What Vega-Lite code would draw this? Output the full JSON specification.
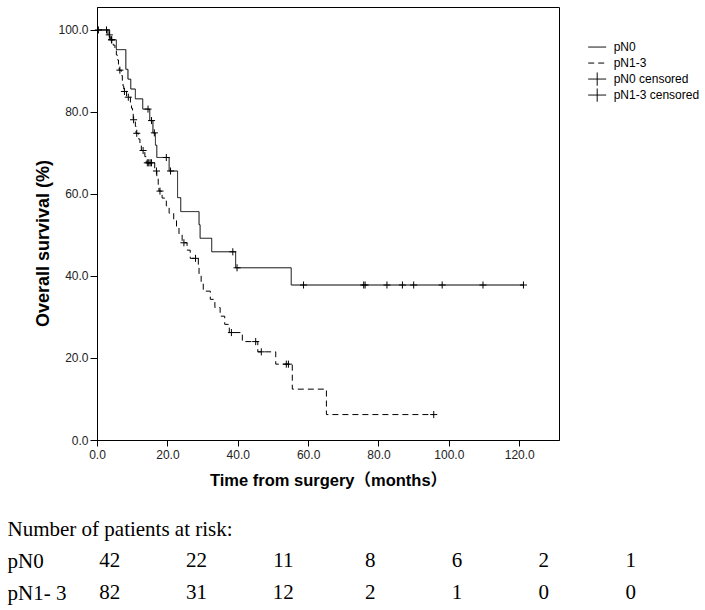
{
  "$schema": "https://vega.github.io/schema/vega-lite/v6.json",
  "description": "Overall survival by nodal status, with number of patients at risk",
  "padding": {"left": 7, "top": 6, "right": 5, "bottom": 5},
  "bounds": "flush",
  "spacing": 73,
  "config": {
    "view": {"stroke": null},
    "axis": {"grid": false}
  },
  "datasets": {
    "curves": [
      {"series": "pN0", "time": 0, "surv": 100},
      {"series": "pN0", "time": 3.6, "surv": 97.6},
      {"series": "pN0", "time": 5.5, "surv": 95.2},
      {"series": "pN0", "time": 8.2, "surv": 90.4},
      {"series": "pN0", "time": 8.8, "surv": 88.0},
      {"series": "pN0", "time": 9.6, "surv": 85.6},
      {"series": "pN0", "time": 10.9, "surv": 83.2},
      {"series": "pN0", "time": 13.0, "surv": 80.7},
      {"series": "pN0", "time": 15.0, "surv": 77.9},
      {"series": "pN0", "time": 15.9, "surv": 74.9},
      {"series": "pN0", "time": 16.6, "surv": 71.9},
      {"series": "pN0", "time": 17.0, "surv": 68.9},
      {"series": "pN0", "time": 20.5, "surv": 65.6},
      {"series": "pN0", "time": 22.9, "surv": 59.1},
      {"series": "pN0", "time": 23.8, "surv": 55.7},
      {"series": "pN0", "time": 29.0, "surv": 52.5},
      {"series": "pN0", "time": 29.3, "surv": 49.2},
      {"series": "pN0", "time": 32.6, "surv": 45.9},
      {"series": "pN0", "time": 39.4, "surv": 42.0},
      {"series": "pN0", "time": 55.2, "surv": 37.8},
      {"series": "pN0", "time": 121.2, "surv": 37.8},
      {"series": "pN1-3", "time": 0, "surv": 100},
      {"series": "pN1-3", "time": 3.1, "surv": 98.8},
      {"series": "pN1-3", "time": 3.9, "surv": 97.6},
      {"series": "pN1-3", "time": 4.6, "surv": 96.3},
      {"series": "pN1-3", "time": 5.1, "surv": 95.1},
      {"series": "pN1-3", "time": 5.5, "surv": 93.9},
      {"series": "pN1-3", "time": 5.8, "surv": 92.7},
      {"series": "pN1-3", "time": 6.1, "surv": 91.4},
      {"series": "pN1-3", "time": 6.3, "surv": 90.2},
      {"series": "pN1-3", "time": 6.9, "surv": 88.9},
      {"series": "pN1-3", "time": 7.2, "surv": 87.6},
      {"series": "pN1-3", "time": 7.4, "surv": 86.3},
      {"series": "pN1-3", "time": 7.6, "surv": 85.0},
      {"series": "pN1-3", "time": 8.4, "surv": 83.6},
      {"series": "pN1-3", "time": 9.5, "surv": 82.2},
      {"series": "pN1-3", "time": 9.8, "surv": 80.9},
      {"series": "pN1-3", "time": 10.1, "surv": 79.5},
      {"series": "pN1-3", "time": 10.3, "surv": 78.1},
      {"series": "pN1-3", "time": 10.9, "surv": 76.5},
      {"series": "pN1-3", "time": 11.1, "surv": 74.8},
      {"series": "pN1-3", "time": 11.8, "surv": 73.4},
      {"series": "pN1-3", "time": 12.2, "surv": 72.0},
      {"series": "pN1-3", "time": 12.6, "surv": 70.6},
      {"series": "pN1-3", "time": 13.6, "surv": 69.1},
      {"series": "pN1-3", "time": 14.0, "surv": 67.6},
      {"series": "pN1-3", "time": 16.4, "surv": 65.6},
      {"series": "pN1-3", "time": 17.0, "surv": 63.8},
      {"series": "pN1-3", "time": 17.4, "surv": 62.2},
      {"series": "pN1-3", "time": 17.6, "surv": 60.7},
      {"series": "pN1-3", "time": 18.5, "surv": 59.0},
      {"series": "pN1-3", "time": 19.7, "surv": 57.1},
      {"series": "pN1-3", "time": 20.5, "surv": 55.3},
      {"series": "pN1-3", "time": 21.8, "surv": 53.6},
      {"series": "pN1-3", "time": 22.6, "surv": 51.8},
      {"series": "pN1-3", "time": 23.3, "surv": 50.1},
      {"series": "pN1-3", "time": 24.2, "surv": 48.1},
      {"series": "pN1-3", "time": 25.6, "surv": 46.3},
      {"series": "pN1-3", "time": 26.5, "surv": 44.3},
      {"series": "pN1-3", "time": 28.8, "surv": 42.3},
      {"series": "pN1-3", "time": 29.0, "surv": 40.4},
      {"series": "pN1-3", "time": 29.6, "surv": 38.4},
      {"series": "pN1-3", "time": 30.2, "surv": 36.3},
      {"series": "pN1-3", "time": 32.2, "surv": 34.3},
      {"series": "pN1-3", "time": 33.5, "surv": 32.3},
      {"series": "pN1-3", "time": 35.0, "surv": 30.2},
      {"series": "pN1-3", "time": 36.3, "surv": 28.2},
      {"series": "pN1-3", "time": 37.6, "surv": 26.2},
      {"series": "pN1-3", "time": 41.3, "surv": 24.0},
      {"series": "pN1-3", "time": 45.7, "surv": 21.5},
      {"series": "pN1-3", "time": 50.8, "surv": 18.5},
      {"series": "pN1-3", "time": 55.5, "surv": 12.4},
      {"series": "pN1-3", "time": 65.2, "surv": 6.2},
      {"series": "pN1-3", "time": 95.7, "surv": 6.2}
    ],
    "censored": [
      {"series": "pN0 censored", "time": 2.7, "surv": 100},
      {"series": "pN0 censored", "time": 4.1, "surv": 97.6},
      {"series": "pN0 censored", "time": 14.5, "surv": 80.7},
      {"series": "pN0 censored", "time": 15.5, "surv": 77.9},
      {"series": "pN0 censored", "time": 16.3, "surv": 74.9},
      {"series": "pN0 censored", "time": 19.7, "surv": 68.9},
      {"series": "pN0 censored", "time": 20.9, "surv": 65.6},
      {"series": "pN0 censored", "time": 38.6, "surv": 45.9},
      {"series": "pN0 censored", "time": 39.8, "surv": 42.0},
      {"series": "pN0 censored", "time": 58.7, "surv": 37.8},
      {"series": "pN0 censored", "time": 75.8, "surv": 37.8},
      {"series": "pN0 censored", "time": 76.2, "surv": 37.8},
      {"series": "pN0 censored", "time": 82.4, "surv": 37.8},
      {"series": "pN0 censored", "time": 86.8, "surv": 37.8},
      {"series": "pN0 censored", "time": 90.0, "surv": 37.8},
      {"series": "pN0 censored", "time": 98.1, "surv": 37.8},
      {"series": "pN0 censored", "time": 109.7, "surv": 37.8},
      {"series": "pN0 censored", "time": 121.2, "surv": 37.8},
      {"series": "pN1-3 censored", "time": 0.4, "surv": 100},
      {"series": "pN1-3 censored", "time": 3.5, "surv": 98.8},
      {"series": "pN1-3 censored", "time": 4.2, "surv": 97.6},
      {"series": "pN1-3 censored", "time": 6.5, "surv": 90.2},
      {"series": "pN1-3 censored", "time": 7.8, "surv": 85.0},
      {"series": "pN1-3 censored", "time": 8.9, "surv": 83.6},
      {"series": "pN1-3 censored", "time": 10.4, "surv": 78.1},
      {"series": "pN1-3 censored", "time": 11.3, "surv": 74.8},
      {"series": "pN1-3 censored", "time": 13.1, "surv": 70.6},
      {"series": "pN1-3 censored", "time": 14.3, "surv": 67.6},
      {"series": "pN1-3 censored", "time": 14.7, "surv": 67.6},
      {"series": "pN1-3 censored", "time": 15.1, "surv": 67.6},
      {"series": "pN1-3 censored", "time": 15.5, "surv": 67.6},
      {"series": "pN1-3 censored", "time": 16.9, "surv": 65.6},
      {"series": "pN1-3 censored", "time": 17.9, "surv": 60.7},
      {"series": "pN1-3 censored", "time": 24.7, "surv": 48.1},
      {"series": "pN1-3 censored", "time": 28.0, "surv": 44.3},
      {"series": "pN1-3 censored", "time": 38.2, "surv": 26.2},
      {"series": "pN1-3 censored", "time": 45.1, "surv": 24.0},
      {"series": "pN1-3 censored", "time": 46.7, "surv": 21.5},
      {"series": "pN1-3 censored", "time": 53.8, "surv": 18.5},
      {"series": "pN1-3 censored", "time": 54.4, "surv": 18.5},
      {"series": "pN1-3 censored", "time": 95.7, "surv": 6.2}
    ],
    "risk": [
      {"group": "pN0", "time": 0, "n": 42},
      {"group": "pN0", "time": 20, "n": 22},
      {"group": "pN0", "time": 40, "n": 11},
      {"group": "pN0", "time": 60, "n": 8},
      {"group": "pN0", "time": 80, "n": 6},
      {"group": "pN0", "time": 100, "n": 2},
      {"group": "pN0", "time": 120, "n": 1},
      {"group": "pN1- 3", "time": 0, "n": 82},
      {"group": "pN1- 3", "time": 20, "n": 31},
      {"group": "pN1- 3", "time": 40, "n": 12},
      {"group": "pN1- 3", "time": 60, "n": 2},
      {"group": "pN1- 3", "time": 80, "n": 1},
      {"group": "pN1- 3", "time": 100, "n": 0},
      {"group": "pN1- 3", "time": 120, "n": 0}
    ]
  },
  "vconcat": [
    {
      "width": 462,
      "height": 433,
      "view": {"stroke": "#000", "strokeWidth": 1},
      "layer": [
        {
          "data": {"name": "curves"},
          "mark": {"type": "line", "interpolate": "step-after", "color": "#000", "strokeWidth": 1},
          "encoding": {
            "x": {
              "field": "time",
              "type": "quantitative",
              "scale": {"domain": [0, 131.3], "nice": false, "zero": false},
              "axis": {
                "title": "Time from surgery（months）",
                "values": [0, 20, 40, 60, 80, 100, 120],
                "format": ".1f",
                "domainColor": "#000",
                "tickColor": "#000",
                "tickSize": 6,
                "labelPadding": 3.5,
                "labelFont": "Liberation Sans",
                "labelFontSize": 12,
                "labelColor": "#222",
                "labelFlush": false,
                "labelOverlap": false,
                "titleFont": "Liberation Sans, Noto Sans CJK SC",
                "titleFontSize": 16.5,
                "titleFontWeight": "bold",
                "titleColor": "#000",
                "titlePadding": 12
              }
            },
            "y": {
              "field": "surv",
              "type": "quantitative",
              "scale": {"domain": [0, 105.6], "nice": false},
              "axis": {
                "title": "Overall survival (%)",
                "values": [0, 20, 40, 60, 80, 100],
                "format": ".1f",
                "domainColor": "#000",
                "tickColor": "#000",
                "tickSize": 7,
                "labelPadding": 2,
                "labelFont": "Liberation Sans",
                "labelFontSize": 12,
                "labelColor": "#222",
                "labelFlush": false,
                "labelOverlap": false,
                "titleFont": "Liberation Sans",
                "titleFontSize": 18,
                "titleFontWeight": "bold",
                "titleColor": "#000",
                "titlePadding": 5,
                "titleY": 236
              }
            },
            "strokeDash": {
              "field": "series",
              "type": "nominal",
              "scale": {
                "domain": ["pN0", "pN1-3", "pN0 censored", "pN1-3 censored"],
                "range": [[1, 0], [6, 4], [1, 0], [1, 0]]
              },
              "legend": {
                "title": null,
                "orient": "none",
                "legendX": 490.7,
                "legendY": 33.4,
                "symbolSize": 324,
                "clipHeight": 13.3,
                "rowPadding": 2,
                "labelOffset": 7,
                "labelFont": "Liberation Sans",
                "labelFontSize": 12,
                "labelColor": "#000",
                "symbolStrokeColor": "#000",
                "symbolStrokeWidth": 1,
                "symbolOpacity": 1
              }
            }
          }
        },
        {
          "data": {"name": "censored"},
          "mark": {"type": "point", "filled": false, "color": "#000", "strokeWidth": 1, "size": 50, "opacity": 1},
          "encoding": {
            "x": {"field": "time", "type": "quantitative"},
            "y": {"field": "surv", "type": "quantitative"},
            "shape": {
              "field": "series",
              "type": "nominal",
              "scale": {
                "domain": ["pN0", "pN1-3", "pN0 censored", "pN1-3 censored"],
                "range": ["stroke", "stroke", "M-1,0H1M0,-1V1", "M-1,0H1M0,-1V1"]
              },
              "legend": {
                "title": null,
                "orient": "none",
                "legendX": 490.7,
                "legendY": 33.4,
                "symbolSize": 324,
                "clipHeight": 13.3,
                "rowPadding": 2,
                "labelOffset": 7,
                "labelFont": "Liberation Sans",
                "labelFontSize": 12,
                "labelColor": "#000",
                "symbolStrokeColor": "#000",
                "symbolStrokeWidth": 1,
                "symbolOpacity": 1
              }
            }
          }
        }
      ]
    },
    {
      "width": 462,
      "height": 96,
      "data": {"name": "risk"},
      "mark": {"type": "text", "font": "Liberation Serif", "fontSize": 21, "color": "#000", "align": "center", "baseline": "middle"},
      "encoding": {
        "x": {
          "field": "time",
          "type": "ordinal",
          "scale": {"type": "point", "range": [12.7, 533.7], "padding": 0},
          "axis": null
        },
        "y": {
          "field": "group",
          "type": "nominal",
          "scale": {"domain": ["Number of patients at risk:", "pN0", "pN1- 3"]},
          "axis": {
            "title": null,
            "domain": false,
            "ticks": false,
            "tickSize": 0,
            "labelAlign": "left",
            "labelPadding": 90,
            "labelFont": "Liberation Serif",
            "labelFontSize": 21,
            "labelColor": "#000",
            "labelLimit": 400
          }
        },
        "text": {"field": "n", "type": "quantitative"}
      }
    }
  ]
}
